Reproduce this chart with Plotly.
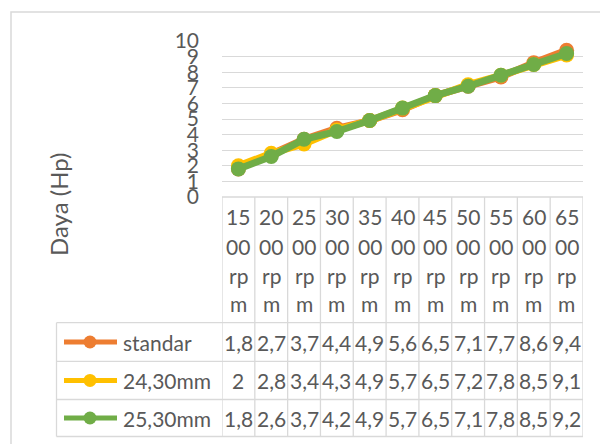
import plotly.graph_objects as go

categories = ["1500 rpm", "2000 rpm", "2500 rpm", "3000 rpm", "3500 rpm", "4000 rpm",
              "4500 rpm", "5000 rpm", "5500 rpm", "6000 rpm", "6500 rpm"]
series_names = ["standar", "24,30mm", "25,30mm"]
standar = [1.8, 2.7, 3.7, 4.4, 4.9, 5.6, 6.5, 7.1, 7.7, 8.6, 9.4]
mm_24_30 = [2, 2.8, 3.4, 4.3, 4.9, 5.7, 6.5, 7.2, 7.8, 8.5, 9.1]
mm_25_30 = [1.8, 2.6, 3.7, 4.2, 4.9, 5.7, 6.5, 7.1, 7.8, 8.5, 9.2]
series_values = [standar, mm_24_30, mm_25_30]
colors = ["#ED7D31", "#FFC000", "#70AD47"]
y_title = "Daya (Hp)"

FONT = "Lato"
TXT = "#595959"
GRID = "#D9D9D9"
FS = 21

# pixel layout of the plot area
PX_L, PX_R, PX_T, PX_B = 222, 583, 41, 197
W, H = 600, 444

def px_x(p):
    return (p - PX_L) / (PX_R - PX_L)

def px_y(p):
    return (PX_B - p) / (PX_B - PX_T)

xs = list(range(len(categories)))

fig = go.Figure()
for name, vals, col in zip(series_names, series_values, colors):
    fig.add_trace(go.Scatter(
        x=xs, y=vals, name=name, mode="lines+markers",
        line=dict(color=col, width=7),
        marker=dict(color=col, size=15, line=dict(color=col, width=0)),
        showlegend=False, cliponaxis=False,
    ))

shapes = []
annotations = []
line_style = dict(color=GRID, width=1.3)

# outer chart border
shapes.append(dict(type="rect", xref="paper", yref="paper",
                   x0=px_x(11), x1=px_x(620), y0=px_y(12), y1=px_y(470),
                   line=dict(color=GRID, width=1.5), layer="below"))

# data table geometry
header_top = PX_B
row_edges = [322.7, 361.3, 399.5, 436.5]
legend_left = 56.5
header_lines_y = [216, 246, 275, 303]

# horizontal table lines
shapes.append(dict(type="line", xref="x", yref="paper", x0=-0.5, x1=len(xs) - 0.5,
                   y0=px_y(header_top), y1=px_y(header_top), line=line_style))
for e in row_edges:
    shapes.append(dict(type="line", xref="paper", yref="paper", x0=px_x(legend_left), x1=1,
                       y0=px_y(e), y1=px_y(e), line=line_style))
# vertical table lines (category boundaries)
for k in range(len(xs) + 1):
    shapes.append(dict(type="line", xref="x", yref="paper", x0=k - 0.5, x1=k - 0.5,
                       y0=px_y(header_top), y1=px_y(row_edges[-1]), line=line_style))
shapes.append(dict(type="line", xref="paper", yref="paper", x0=px_x(legend_left), x1=px_x(legend_left),
                   y0=px_y(row_edges[0]), y1=px_y(row_edges[-1]), line=line_style))

# header cells (wrapped category labels)
for i, cat in enumerate(categories):
    s = cat.replace(" ", "")
    chunks = [s[j:j + 2] for j in range(0, len(s), 2)]
    for j, ch in enumerate(chunks):
        annotations.append(dict(x=i, xref="x", y=px_y(header_lines_y[j]), yref="paper",
                                text=ch, showarrow=False, xanchor="center", yanchor="middle",
                                font=dict(family=FONT, size=FS, color=TXT)))

# value rows
for r, (name, vals, col) in enumerate(zip(series_names, series_values, colors)):
    cy = (row_edges[r] + row_edges[r + 1]) / 2
    for i, v in enumerate(vals):
        annotations.append(dict(x=i, xref="x", y=px_y(cy), yref="paper",
                                text=f"{v:g}".replace(".", ","), showarrow=False,
                                xanchor="center", yanchor="middle",
                                font=dict(family=FONT, size=FS, color=TXT)))
    # legend key
    shapes.append(dict(type="line", xref="paper", yref="paper", x0=px_x(64), x1=px_x(117),
                       y0=px_y(cy), y1=px_y(cy), line=dict(color=col, width=5)))
    rpx = 6.5
    shapes.append(dict(type="circle", xref="paper", yref="paper",
                       x0=px_x(90 - rpx), x1=px_x(90 + rpx),
                       y0=px_y(cy - rpx), y1=px_y(cy + rpx),
                       fillcolor=col, line=dict(color=col, width=0)))
    annotations.append(dict(x=px_x(121), xref="paper", y=px_y(cy), yref="paper",
                            text=name, showarrow=False, xanchor="left", yanchor="middle",
                            font=dict(family=FONT, size=FS, color=TXT)))

# y-axis title
annotations.append(dict(x=px_x(58), xref="paper", y=px_y(204), yref="paper",
                        text=y_title, textangle=-90, showarrow=False,
                        xanchor="center", yanchor="middle",
                        font=dict(family=FONT, size=24, color=TXT)))

fig.update_layout(
    width=W, height=H,
    margin=dict(l=PX_L, r=W - PX_R, t=PX_T, b=H - PX_B, pad=0),
    paper_bgcolor="white", plot_bgcolor="white",
    font=dict(family=FONT, size=FS, color=TXT),
    shapes=shapes, annotations=annotations,
    xaxis=dict(range=[-0.5, len(xs) - 0.5], showticklabels=False, showgrid=False,
               zeroline=False, showline=False, ticks="", fixedrange=True),
    yaxis=dict(range=[0, 10], dtick=1, tick0=0, showgrid=True, gridcolor=GRID, gridwidth=1.3,
               zeroline=False, showline=False, ticks="", ticklabelstandoff=22,
               tickfont=dict(family=FONT, size=FS, color=TXT), fixedrange=True),
)

fig.write_html("out.html", config={"displayModeBar": False},
               post_script="document.body.style.margin='0';")
